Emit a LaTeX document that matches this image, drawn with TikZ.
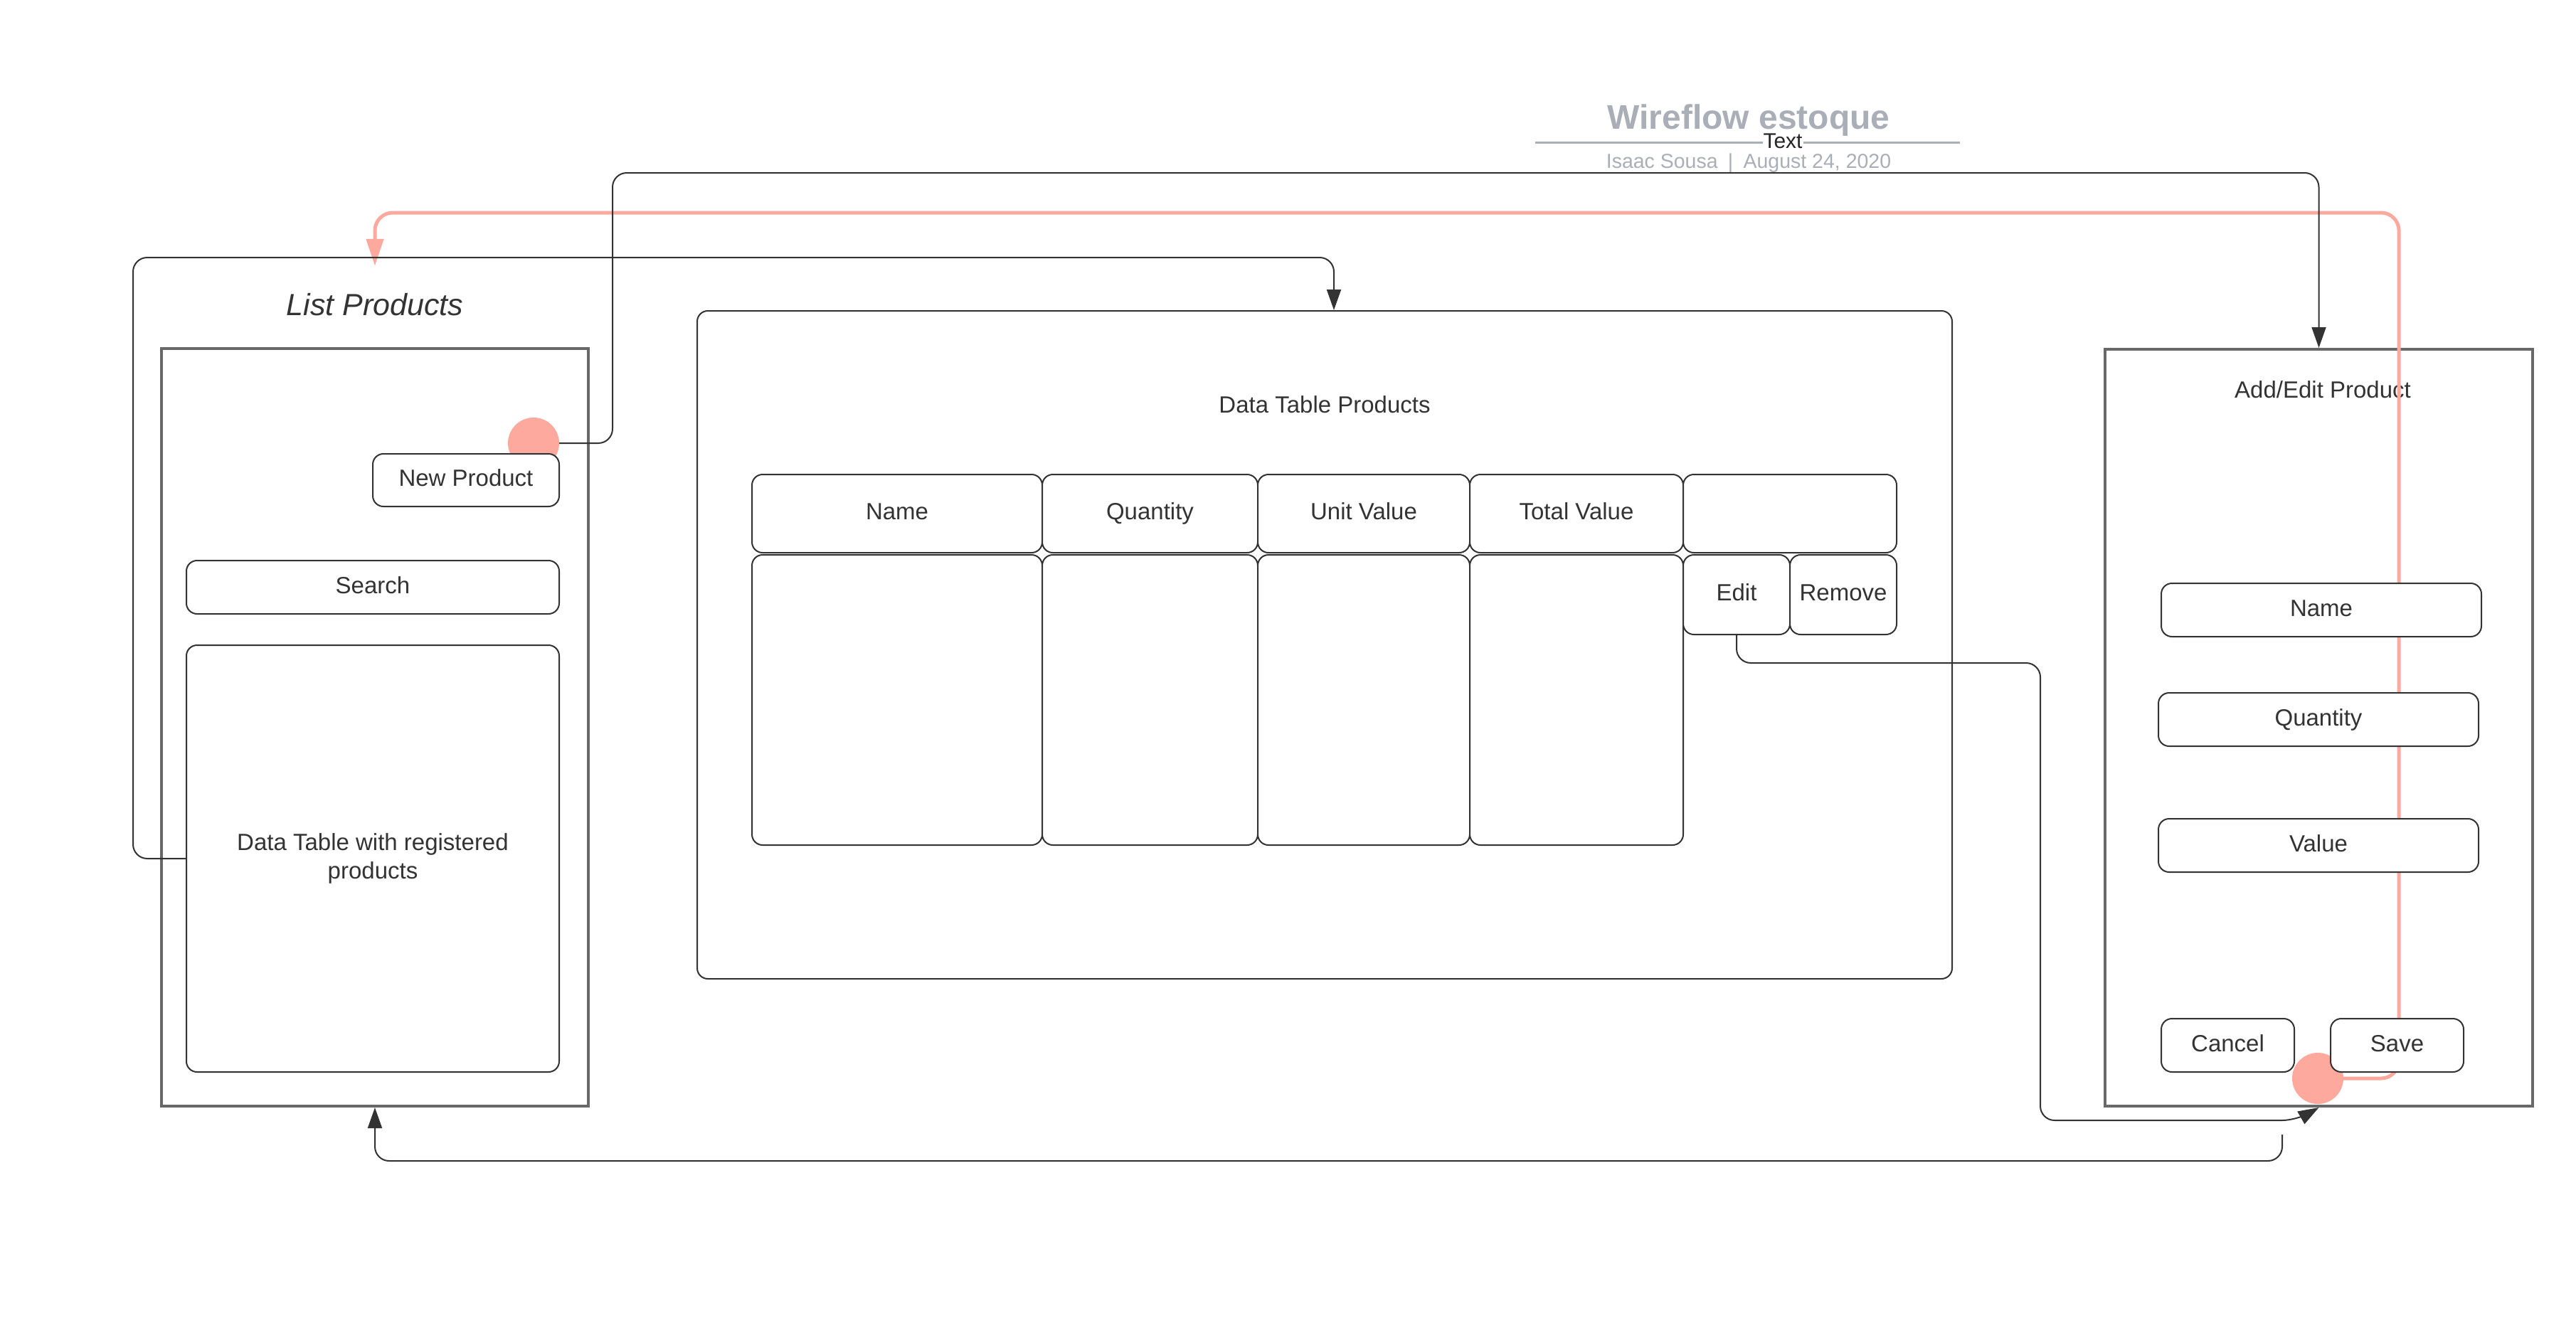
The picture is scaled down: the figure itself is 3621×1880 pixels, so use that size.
\documentclass[tikz,border=0pt]{standalone}
\usepackage{fontspec}
\setmainfont{Liberation Sans}
\usetikzlibrary{arrows.meta}

\definecolor{ink}{HTML}{333333}
\definecolor{frame}{HTML}{686868}
\definecolor{salmon}{HTML}{FDA99E}
\definecolor{titlegray}{HTML}{A9AEB7}

\begin{document}
\begin{tikzpicture}[x=1pt, y=-1pt,
        screen/.style={draw=frame, line width=4pt, inner sep=0pt},
        panel/.style={draw=ink, line width=2pt, rounded corners=15pt, inner sep=0pt, fill=white,
            text=ink, font=\fontsize{33}{40}\selectfont, align=center, text height=24pt, text depth=7pt},
        lbl/.style={text=ink, font=\fontsize{33}{40}\selectfont, inner sep=0pt},
        dot/.style={circle, fill=salmon, minimum size=72pt, inner sep=0pt},
        link/.style={draw=ink, line width=2pt, rounded corners=20pt, -{Triangle[length=29pt, width=20pt]}},
        savelink/.style={draw=salmon, line width=5pt, rounded corners=25pt, -{Triangle[length=38pt, width=24pt]}}]
        \useasboundingbox (0,0) rectangle (3621,1880);
        % title block
        \draw[titlegray, line width=3pt] (2158,200) -- (2755,200);
        \node[fill=white, inner sep=1pt, text=black!85, font=\fontsize{30}{36}\selectfont] (tag) at (2506,198) {Text};
        \node[text=titlegray, font=\bfseries\fontsize{48}{58}\selectfont] (title) at (2458,169) {Wireflow estoque};
        \node[text=titlegray, font=\fontsize{28.5}{34}\selectfont] (byline) at (2458,229) {Isaac Sousa\enspace|\enspace August 24, 2020};
        % screens
        \node[screen, minimum width=600pt, minimum height=1065pt] (listp) at (527,1022.5) {};
        \node[screen, minimum width=601pt, minimum height=1064pt] (addp) at (3259.5,1023) {};
        \node[panel, fill=none, minimum width=1764pt, minimum height=939pt] (dtp) at (1862,906.5) {};
        \node[lbl, font=\itshape\fontsize{43}{52}\selectfont, minimum height=108pt] (ltitle) at (527,428) {List Products};
        \node[lbl] (dtptitle) at (1862,569) {Data Table Products};
        \node[lbl] (atitle) at (3265,548) {Add/Edit Product};
        % hotspots
        \node[dot] (ndot) at (750,623) {};
        \node[dot] (sdot) at (3258,1516) {};
        \draw[savelink] (sdot.east) -| (3372,299) -| (ltitle.north);
        \draw[link] (ndot.east) -| (861,243) -| (addp.north);
        % list screen
        \node[panel, minimum width=262pt, minimum height=74pt] (newbtn) at (655,675) {New Product};
        \node[panel, minimum width=524pt, minimum height=75pt] (search) at (524,825.5) {Search};
        \node[panel, minimum width=524pt, minimum height=600pt, text height={}, text depth={}] (dtable) at (524,1207) {Data Table with registered\\products};
        % products table
        \node[panel, minimum width=408pt, minimum height=110pt] (hname) at (1261,722) {Name};
        \node[panel, minimum width=303pt, minimum height=110pt] (hqty) at (1616.5,722) {Quantity};
        \node[panel, minimum width=298pt, minimum height=110pt] (hunit) at (1917,722) {Unit Value};
        \node[panel, minimum width=300pt, minimum height=110pt] (htotal) at (2216,722) {Total Value};
        \node[panel, minimum width=300pt, minimum height=110pt] (hblank) at (2516,722) {};
        \node[panel, minimum width=408pt, minimum height=408pt] (cname) at (1261,984) {};
        \node[panel, minimum width=303pt, minimum height=408pt] (cqty) at (1616.5,984) {};
        \node[panel, minimum width=298pt, minimum height=408pt] (cunit) at (1917,984) {};
        \node[panel, minimum width=300pt, minimum height=408pt] (ctotal) at (2216,984) {};
        \node[panel, minimum width=150pt, minimum height=112pt] (edit) at (2441,836) {Edit};
        \node[panel, minimum width=150pt, minimum height=112pt] (remove) at (2591,836) {Remove};
        % add/edit screen
        \node[panel, minimum width=450pt, minimum height=75pt] (fname) at (3263,857.5) {Name};
        \node[panel, minimum width=450pt, minimum height=75pt] (fqty) at (3259,1011.5) {Quantity};
        \node[panel, minimum width=450pt, minimum height=75pt] (fval) at (3259,1188.5) {Value};
        \node[panel, minimum width=187pt, minimum height=75pt] (cancel) at (3131.5,1469.5) {Cancel};
        \node[panel, minimum width=187pt, minimum height=75pt] (save) at (3369.5,1469.5) {Save};
        % flows
        \coordinate (back) at (3208,1595);
        \draw[link] (dtable.west) -| (187,362) -| ([xshift=13pt]dtp.north);
        \draw[link] (edit.south) |- (2868,932) |- (3228,1575) -- (addp.south);
        \draw[link] (back) -- (3208,1632) -| (listp.south);
\end{tikzpicture}
\end{document}
